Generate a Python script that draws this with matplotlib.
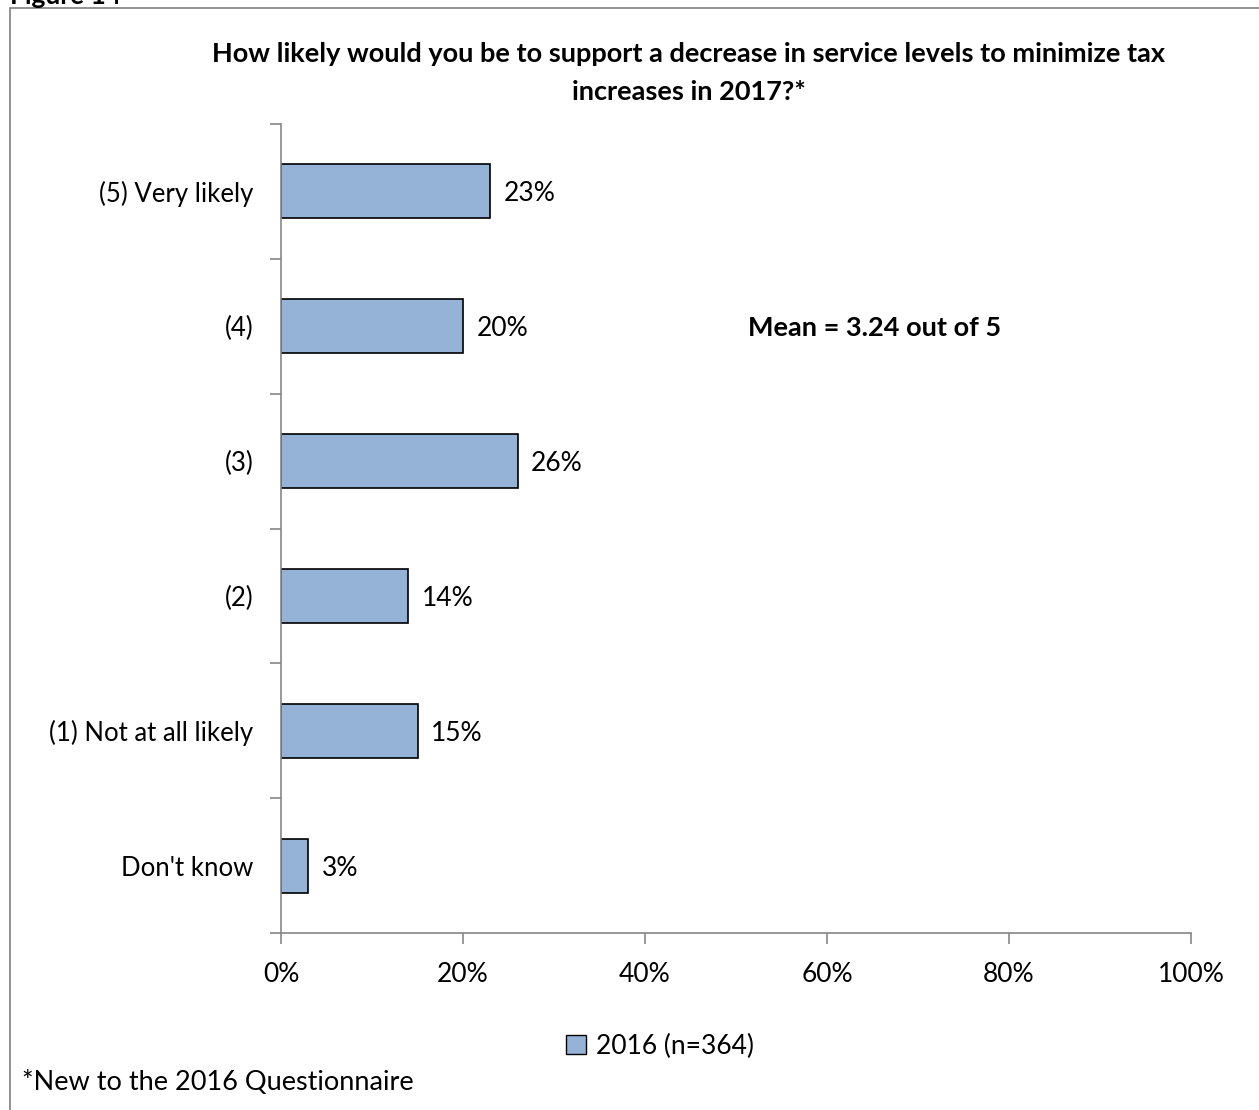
import matplotlib.pyplot as plt
from matplotlib.patches import Rectangle, Patch

# survey responses, top to bottom
categories = ["(5) Very likely", "(4)", "(3)", "(2)", "(1) Not at all likely", "Don't know"]
shares = [23, 20, 26, 14, 15, 3]
x_ticks = [0, 20, 40, 60, 80, 100]
series_name = "2016 (n=364)"
title = "How likely would you be to support a decrease in service levels to minimize tax\nincreases in 2017?*"
mean_note = "Mean = 3.24 out of 5"
footnote = "*New to the 2016 Questionnaire"

plt.rcParams['font.family'] = ['Lato', 'DejaVu Sans']
FS = 19
W, H = 1259, 1110
fig = plt.figure(figsize=(W / 100, H / 100), dpi=100)

# outer frame (only left and top edges fall inside the image)
fig.patches.append(Rectangle((10 / W, -0.1), 1.2, 1.1 - 8 / H, transform=fig.transFigure,
                             fill=False, edgecolor='#7f7f7f', linewidth=1.2))
fig.text(10 / W, 1 - 4 / H, "Figure 14", fontsize=FS, fontweight='bold', va='baseline', ha='left')

ax = fig.add_axes([281 / W, 1 - 933 / H, (1191 - 281) / W, (933 - 124) / H])
ypos = list(range(len(categories)))[::-1]
ax.barh(ypos, shares, height=0.4, color='#95B3D7', edgecolor='black', linewidth=1.2)
for y, v in zip(ypos, shares):
    ax.text(v + 1.5, y, f"{v}%", va='center_baseline', ha='left', fontsize=FS)

ax.set_xlim(0, 100)
ax.set_ylim(-0.5, len(categories) - 0.5)
ax.set_xticks(x_ticks)
ax.set_xticklabels([f"{t}%" for t in x_ticks], fontsize=FS)
ax.set_yticks(ypos)
ax.set_yticklabels(categories, fontsize=18.5)
ax.set_yticks([i - 0.5 for i in range(len(categories) + 1)], minor=True)
ax.tick_params(axis='y', which='major', length=0, pad=20)
ax.tick_params(axis='y', which='minor', length=8, color='#868686', width=1.2)
ax.tick_params(axis='x', length=8, color='#868686', width=1.2, pad=13)
for side in ['top', 'right']:
    ax.spines[side].set_visible(False)
for side in ['left', 'bottom']:
    ax.spines[side].set_color('#868686')
    ax.spines[side].set_linewidth(1.2)

fig.text(689 / W, 1 - 73 / H, title, fontsize=19.5, fontweight='bold',
         ha='center', va='center', linespacing=1.72)
fig.text(875 / W, 1 - 328 / H, mean_note, fontsize=19.5, fontweight='bold', ha='center', va='center')

fig.legend(handles=[Patch(facecolor='#95B3D7', edgecolor='black', label=series_name)],
           loc='center', bbox_to_anchor=(660 / W, 1 - 1046 / H), frameon=False,
           fontsize=FS, handlelength=0.75, handleheight=0.75, handletextpad=0.4)
fig.text(22 / W, 1 - 1083 / H, footnote, fontsize=19.5, ha='left', va='center')

fig.savefig("out.png", dpi=100)
